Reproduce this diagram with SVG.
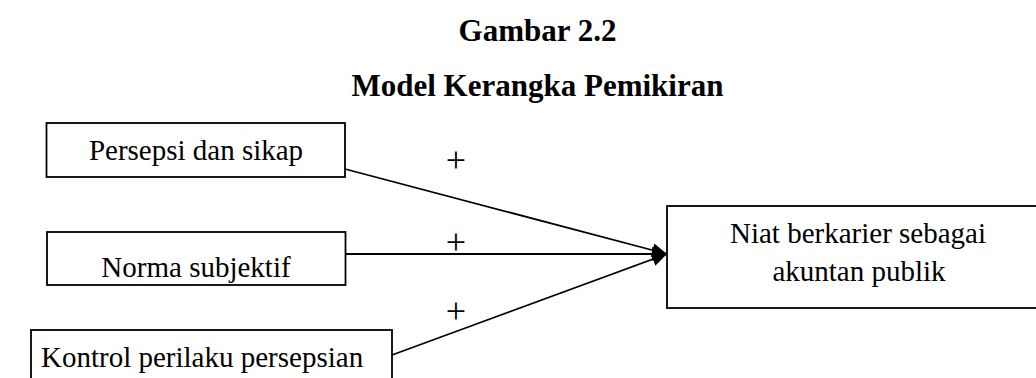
<svg xmlns="http://www.w3.org/2000/svg" width="1036" height="378" viewBox="0 0 1036 378">
<style>
.box{fill:#fff;stroke:#000;stroke-width:1.8}
.t{font-family:"Liberation Serif","Times New Roman",serif;font-size:29px;fill:#000}
.title{font-family:"Liberation Serif","Times New Roman",serif;font-size:31px;font-weight:bold;fill:#000}
.edge{stroke:#000;stroke-width:1.8;fill:none}
.plus{font-family:"Liberation Serif","Times New Roman",serif;font-size:36px;fill:#000}
</style>
<defs>
<marker id="arr" markerUnits="userSpaceOnUse" markerWidth="16" markerHeight="14" refX="15" refY="7" orient="auto">
<path d="M0,0 L15,7 L0,14 z" fill="#000"/>
</marker>
</defs>
<rect width="1036" height="378" fill="#fff"/>
<text class="title" x="537.5" y="41" text-anchor="middle">Gambar 2.2</text>
<text class="title" x="537.5" y="96" text-anchor="middle">Model Kerangka Pemikiran</text>
<g id="connectors">
<line class="edge" x1="345" y1="169" x2="667" y2="254" marker-end="url(#arr)"/>
<line class="edge" x1="346" y1="254" x2="667" y2="254" marker-end="url(#arr)"/>
<line class="edge" x1="392" y1="355" x2="667" y2="254" marker-end="url(#arr)"/>
<text class="plus" x="456" y="172" text-anchor="middle">+</text>
<text class="plus" x="456" y="254" text-anchor="middle">+</text>
<text class="plus" x="456" y="323" text-anchor="middle">+</text>
</g>
<g id="node-persepsi">
<rect class="box" x="46.5" y="123" width="298.5" height="54"/>
<text class="t" x="196" y="160" text-anchor="middle">Persepsi dan sikap</text>
</g>
<g id="node-norma">
<rect class="box" x="47" y="232" width="298.5" height="53"/>
<text class="t" x="196" y="277" text-anchor="middle">Norma subjektif</text>
</g>
<g id="node-kontrol">
<rect class="box" x="31" y="330" width="361" height="60"/>
<text class="t" x="41" y="367">Kontrol perilaku persepsian</text>
</g>
<g id="node-niat">
<rect class="box" x="667" y="206" width="380" height="102"/>
<text class="t" x="858" y="243" text-anchor="middle">Niat berkarier sebagai</text>
<text class="t" x="859" y="281" text-anchor="middle">akuntan publik</text>
</g>
</svg>
